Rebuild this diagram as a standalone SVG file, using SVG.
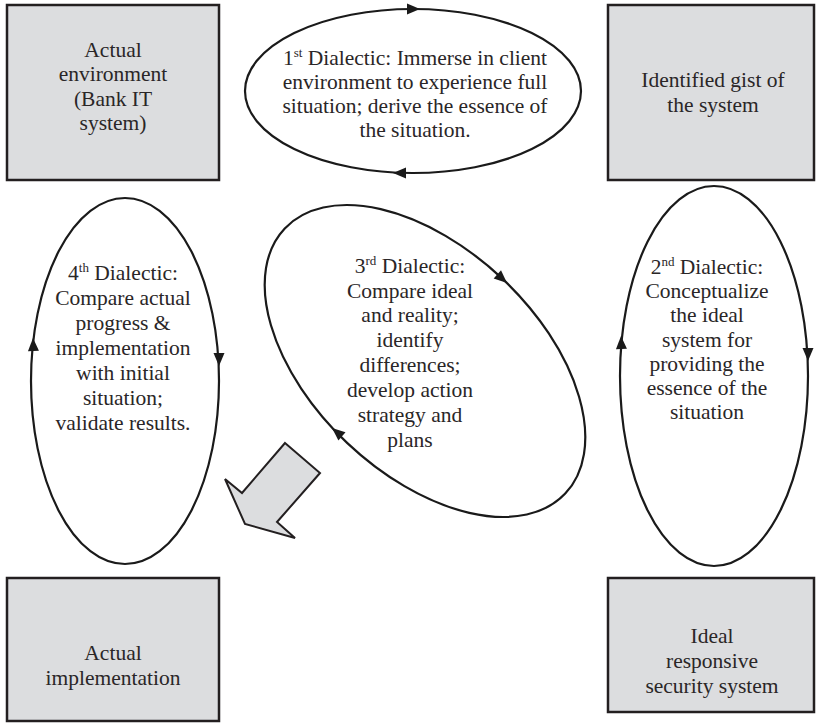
<svg xmlns="http://www.w3.org/2000/svg" width="816" height="724" viewBox="0 0 816 724">
  <style>
    .box { fill: #dcdddf; stroke: #231f20; stroke-width: 2.5; }
    .loop { fill: none; stroke: #1a1a1a; stroke-width: 2.2; }
    .lbl { font-family: "Liberation Serif", "Times New Roman", serif; font-size: 21.5px; fill: #2a2627; text-anchor: middle; }
    .sup { font-size: 13px; }
    .head { fill: #1a1a1a; }
    .big { fill: #dcdddf; stroke: #231f20; stroke-width: 2; stroke-linejoin: miter; }
  </style>
  <defs>
    <!-- small filled arrowhead, tip at the origin, pointing along +x -->
    <path id="ah" class="head" d="M0,0 L-13,-5.5 L-13,5.5 Z"/>
  </defs>

  <rect width="816" height="724" fill="#ffffff"/>

  <!-- corner boxes -->
  <g id="actual-environment">
    <rect class="box" x="7" y="5" width="212" height="175"/>
    <text class="lbl" x="113" y="57">Actual</text>
    <text class="lbl" x="113" y="81">environment</text>
    <text class="lbl" x="113" y="106">(Bank IT</text>
    <text class="lbl" x="113" y="130">system)</text>
  </g>

  <g id="identified-gist">
    <rect class="box" x="608" y="5" width="206" height="175"/>
    <text class="lbl" x="713" y="87">Identified gist of</text>
    <text class="lbl" x="713" y="112">the system</text>
  </g>

  <g id="actual-implementation">
    <rect class="box" x="7" y="578" width="212" height="143"/>
    <text class="lbl" x="113" y="660">Actual</text>
    <text class="lbl" x="113" y="685">implementation</text>
  </g>

  <g id="ideal-system">
    <rect class="box" x="608" y="578" width="206" height="134"/>
    <text class="lbl" x="712" y="643">Ideal</text>
    <text class="lbl" x="712" y="668">responsive</text>
    <text class="lbl" x="712" y="693">security system</text>
  </g>

  <!-- dialectic cycles -->
  <g id="dialectic-1">
    <ellipse class="loop" cx="413" cy="91" rx="168" ry="82"/>
    <text class="lbl" x="415" y="65">1<tspan class="sup" dy="-8">st</tspan><tspan dy="8"> Dialectic: Immerse in client</tspan></text>
    <text class="lbl" x="415" y="89">environment to experience full</text>
    <text class="lbl" x="415" y="113">situation; derive the essence of</text>
    <text class="lbl" x="415" y="137">the situation.</text>
  </g>

  <g id="dialectic-2">
    <ellipse class="loop" cx="714" cy="376" rx="94" ry="190"/>
    <text class="lbl" x="707" y="274">2<tspan class="sup" dy="-8">nd</tspan><tspan dy="8"> Dialectic:</tspan></text>
    <text class="lbl" x="707" y="298">Conceptualize</text>
    <text class="lbl" x="707" y="322">the ideal</text>
    <text class="lbl" x="707" y="347">system for</text>
    <text class="lbl" x="707" y="371">providing the</text>
    <text class="lbl" x="707" y="395">essence of the</text>
    <text class="lbl" x="707" y="419">situation</text>
  </g>

  <g id="dialectic-3">
    <ellipse class="loop" cx="425" cy="361" rx="193" ry="113" transform="rotate(43.4 425 361)"/>
    <text class="lbl" x="410" y="273">3<tspan class="sup" dy="-8">rd</tspan><tspan dy="8"> Dialectic:</tspan></text>
    <text class="lbl" x="410" y="298">Compare ideal</text>
    <text class="lbl" x="410" y="322">and reality;</text>
    <text class="lbl" x="410" y="347">identify</text>
    <text class="lbl" x="410" y="372">differences;</text>
    <text class="lbl" x="410" y="397">develop action</text>
    <text class="lbl" x="410" y="422">strategy and</text>
    <text class="lbl" x="410" y="447">plans</text>
  </g>

  <g id="dialectic-4">
    <ellipse class="loop" cx="125" cy="381" rx="94" ry="183"/>
    <text class="lbl" x="123" y="280">4<tspan class="sup" dy="-8">th</tspan><tspan dy="8"> Dialectic:</tspan></text>
    <text class="lbl" x="123" y="305">Compare actual</text>
    <text class="lbl" x="123" y="330">progress &amp;</text>
    <text class="lbl" x="123" y="355">implementation</text>
    <text class="lbl" x="123" y="380">with initial</text>
    <text class="lbl" x="123" y="405">situation;</text>
    <text class="lbl" x="123" y="430">validate results.</text>
  </g>

  <!-- direction markers on the cycles and the hand-over arrow -->
  <g id="connectors">
    <use href="#ah" transform="translate(420 9)"/>
    <use href="#ah" transform="translate(393 173) rotate(180)"/>
    <use href="#ah" transform="translate(621 336) rotate(-92)"/>
    <use href="#ah" transform="translate(808 361) rotate(90)"/>
    <use href="#ah" transform="translate(507 283) rotate(42)"/>
    <use href="#ah" transform="translate(332 428) rotate(-140)"/>
    <use href="#ah" transform="translate(33 338) rotate(-92)"/>
    <use href="#ah" transform="translate(219 366) rotate(90)"/>
    <polygon id="handover-arrow" class="big" points="285,443 320,473 277,522 295,538 245,524 225,479 242,493"/>
  </g>
</svg>
